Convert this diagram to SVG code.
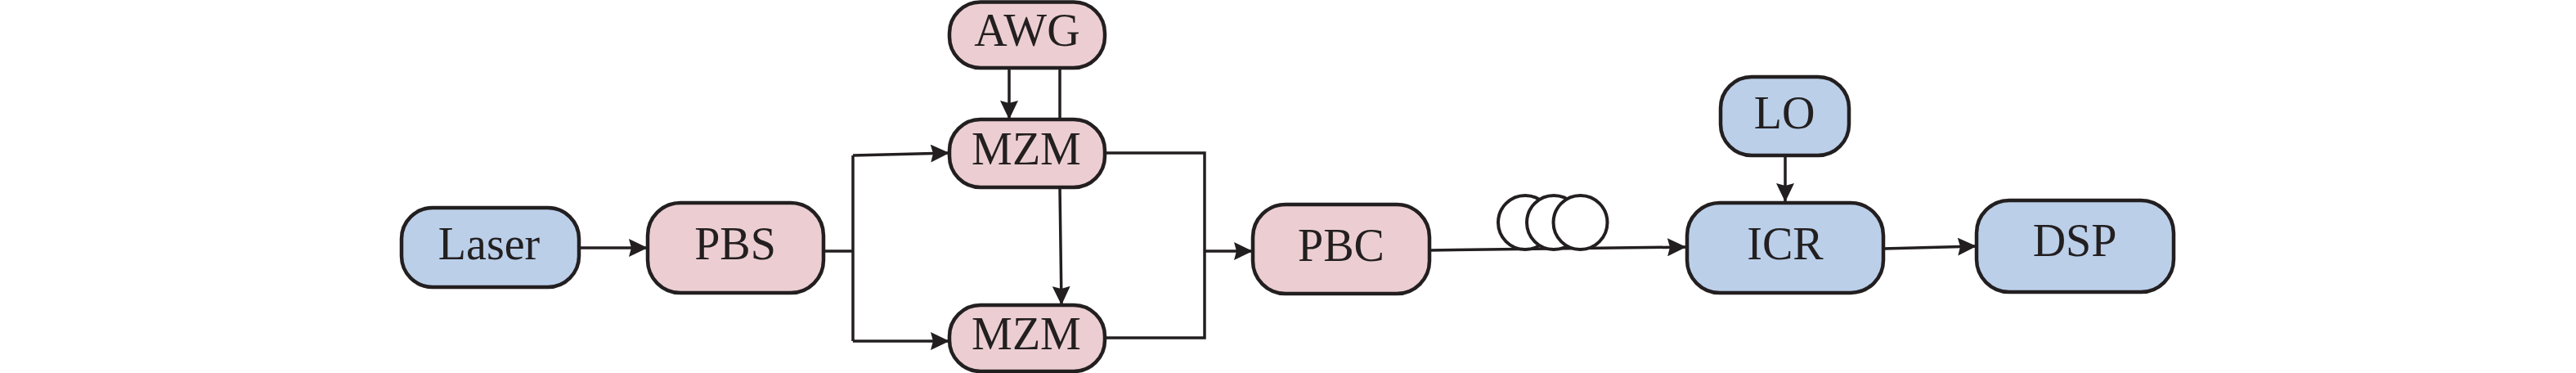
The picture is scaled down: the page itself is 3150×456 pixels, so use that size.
<svg xmlns="http://www.w3.org/2000/svg" width="3150" height="456" viewBox="0 0 3150 456">
<style>
.box{stroke:#231F20;stroke-width:4.5}
.blue{fill:#BBCFE9}
.pink{fill:#ECCED2}
.lbl{font-family:"Liberation Serif","Times New Roman",serif;font-size:56px;fill:#231F20;text-anchor:middle}
.con{fill:none;stroke:#231F20;stroke-width:3.5}
.arr{marker-end:url(#ah)}
.coil{fill:#FFFFFF;stroke:#231F20;stroke-width:4}
</style>
<defs>
<marker id="ah" markerUnits="userSpaceOnUse" markerWidth="24" markerHeight="22" refX="23" refY="11" orient="auto" viewBox="0 0 24 22">
<path d="M0,0 L23,11 L0,22 L3,11 z" fill="#231F20"/>
</marker>
</defs>
<rect width="3150" height="456" fill="#FFFFFF"/>
<g id="connectors">
<path class="con arr" d="M708,303 L792,303"/>
<path class="con" d="M1006,307 H1043 M1043,190 V417"/>
<path class="con arr" d="M1043,190 L1161,187"/>
<path class="con arr" d="M1043,417 L1161,417"/>
<path class="con arr" d="M1234,83 L1234,146"/>
<path class="con" d="M1296,83 L1296,146"/>
<path class="con arr" d="M1296,229 L1298,373"/>
<path class="con" d="M1351,187 H1473 V413 H1351"/>
<path class="con arr" d="M1473,307 L1532,307"/>
<path class="con arr" d="M1748,306 L2062,302"/>
<path class="con arr" d="M2183,190 L2183,247"/>
<path class="con arr" d="M2303,304 L2417,301"/>
</g>
<g id="fiber">
<circle class="coil" cx="1865" cy="272" r="33"/>
<circle class="coil" cx="1900" cy="272" r="33"/>
<circle class="coil" cx="1932.5" cy="272" r="33"/>
</g>
<g id="laser"><rect class="box blue" x="491" y="254" width="217" height="97" rx="38" ry="38"/><text class="lbl" x="598" y="317">Laser</text></g>
<g id="pbs"><rect class="box pink" x="792" y="248" width="215" height="110" rx="40" ry="40"/><text class="lbl" x="899" y="317">PBS</text></g>
<g id="awg"><rect class="box pink" x="1161" y="2.5" width="190" height="80.5" rx="38" ry="38"/><text class="lbl" x="1256" y="56">AWG</text></g>
<g id="mzm1"><rect class="box pink" x="1161" y="146" width="190" height="83" rx="38" ry="38"/><text class="lbl" x="1255" y="201">MZM</text></g>
<g id="mzm2"><rect class="box pink" x="1161" y="373" width="190" height="81" rx="38" ry="38"/><text class="lbl" x="1255" y="427">MZM</text></g>
<g id="pbc"><rect class="box pink" x="1532" y="250" width="216" height="109" rx="40" ry="40"/><text class="lbl" x="1640" y="319">PBC</text></g>
<g id="lo"><rect class="box blue" x="2104" y="94" width="157" height="96" rx="38" ry="38"/><text class="lbl" x="2182" y="157">LO</text></g>
<g id="icr"><rect class="box blue" x="2063" y="248" width="240" height="110" rx="40" ry="40"/><text class="lbl" x="2183" y="317">ICR</text></g>
<g id="dsp"><rect class="box blue" x="2417" y="245" width="241" height="112" rx="40" ry="40"/><text class="lbl" x="2537" y="313">DSP</text></g>
</svg>
